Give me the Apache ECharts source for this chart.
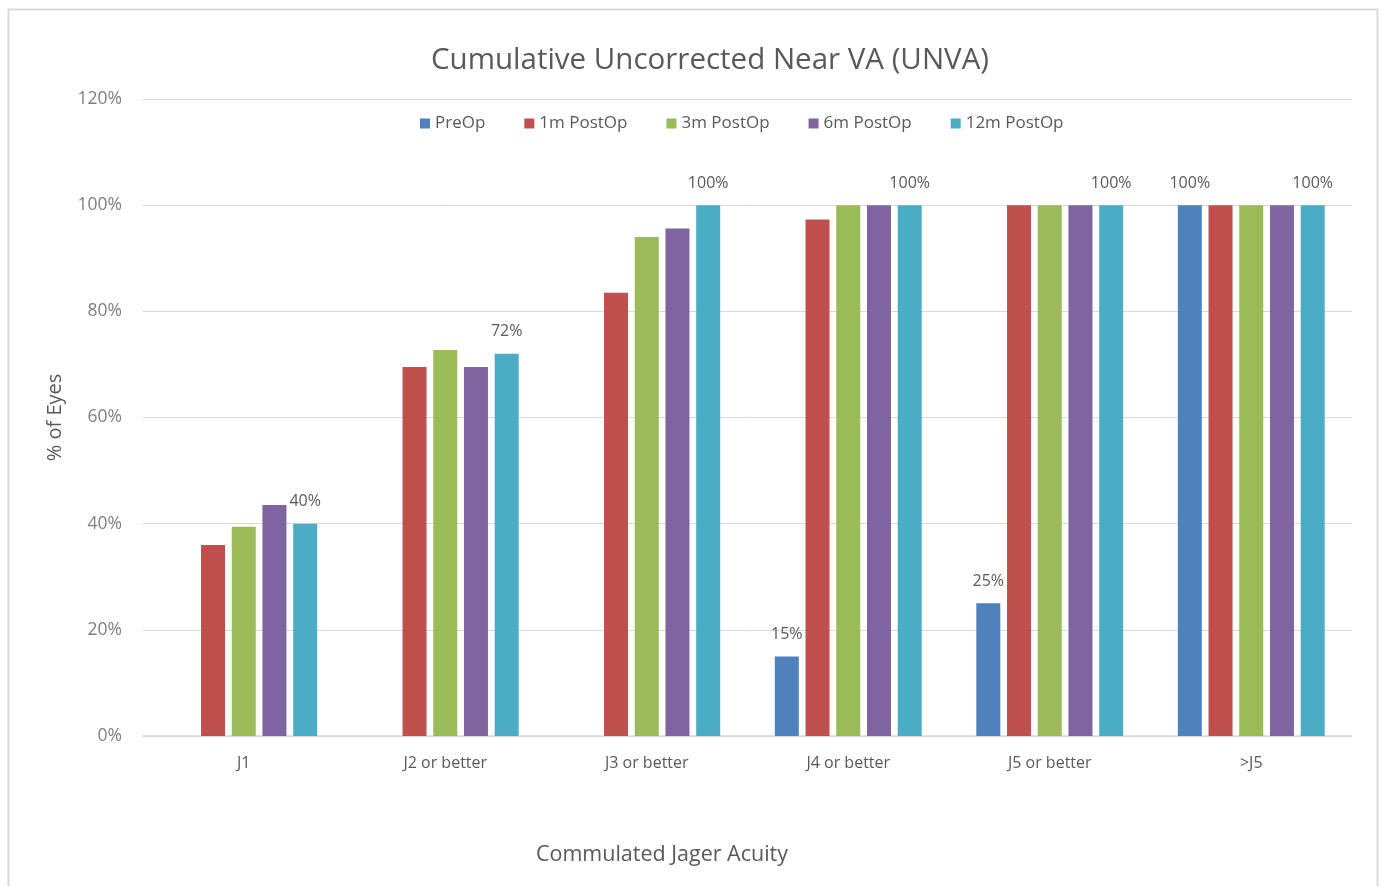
<!DOCTYPE html>
<html>
<head>
<meta charset="utf-8">
<script src="https://cdn.jsdelivr.net/npm/echarts@6/dist/echarts.min.js"></script>
<style>
  html, body { margin: 0; padding: 0; background: #fff; }
  #chart { width: 1384px; height: 886px; }
</style>
</head>
<body>
<div id="chart"></div>
<script>
// Cumulative UNVA by Jaeger level, percent of eyes
const categories = ['J1', 'J2 or better', 'J3 or better', 'J4 or better', 'J5 or better', '>J5'];
const seriesNames = ['PreOp', '1m PostOp', '3m PostOp', '6m PostOp', '12m PostOp'];
const preOp    = [0, 0, 0, 15, 25, 100];
const post1m   = [36, 69.5, 83.5, 97.3, 100, 100];
const post3m   = [39.4, 72.7, 94, 100, 100, 100];
const post6m   = [43.5, 69.5, 95.6, 100, 100, 100];
const post12m  = [40, 72, 100, 100, 100, 100];
const yTicks   = [0, 20, 40, 60, 80, 100, 120];

const colors = ['#4F81BD', '#C0504D', '#9BBB59', '#8064A2', '#4BACC6'];
const values = [preOp, post1m, post3m, post6m, post12m];
const labelled = [true, false, false, false, true];
const font = '"Open Sans", Lato, sans-serif';
const textGray = '#595959';

const chart = echarts.init(document.getElementById('chart'));

const series = seriesNames.map((name, i) => ({
  name: name,
  type: 'bar',
  barWidth: 24,
  barGap: '28%',
  itemStyle: { color: colors[i] },
  data: values[i],
  label: {
    show: labelled[i],
    position: 'top',
    distance: 14,
    fontFamily: font,
    fontSize: 16,
    color: textGray,
    formatter: p => (p.value > 0 ? Math.round(p.value) + '%' : '')
  }
}));

chart.setOption({
  animation: false,
  title: {
    text: 'Cumulative Uncorrected Near VA (UNVA)',
    left: 705,
    top: 41,
    textAlign: 'center',
    textStyle: { fontFamily: font, fontSize: 29.5, fontWeight: 'normal', color: textGray }
  },
  legend: {
    data: seriesNames,
    left: 415,
    top: 110,
    itemWidth: 10,
    itemHeight: 10,
    itemGap: 39,
    icon: 'rect',
    textStyle: { fontFamily: font, fontSize: 17, color: textGray }
  },
  graphic: [
    {
      type: 'rect',
      shape: { x: 8.5, y: 9.5, width: 1369, height: 890 },
      style: { fill: 'none', stroke: '#d9d9d9', lineWidth: 2 },
      silent: true
    },
    {
      type: 'text',
      x: 662,
      y: 855,
      style: {
        text: 'Commulated Jager Acuity',
        fontFamily: font,
        fontSize: 21.5,
        fill: textGray,
        align: 'center',
        verticalAlign: 'middle'
      },
      silent: true
    }
  ],
  grid: { left: 143, right: 32, top: 99, bottom: 150 },
  xAxis: {
    type: 'category',
    data: categories,
    axisTick: { show: false },
    axisLine: { lineStyle: { color: '#d9d9d9', width: 1.5 } },
    axisLabel: { margin: 19, fontFamily: font, fontSize: 16, color: textGray }
  },
  yAxis: {
    type: 'value',
    min: yTicks[0],
    max: yTicks[yTicks.length - 1],
    interval: 20,
    name: '% of Eyes',
    nameLocation: 'middle',
    nameGap: 78,
    nameTextStyle: { fontFamily: font, fontSize: 20, color: textGray },
    axisLine: { show: false },
    axisTick: { show: false },
    axisLabel: { margin: 21, fontFamily: font, fontSize: 17.5, color: '#7f7f7f', formatter: v => v + '%' },
    splitLine: { lineStyle: { color: '#d9d9d9', width: 1 } }
  },
  series: series
});
</script>
</body>
</html>
